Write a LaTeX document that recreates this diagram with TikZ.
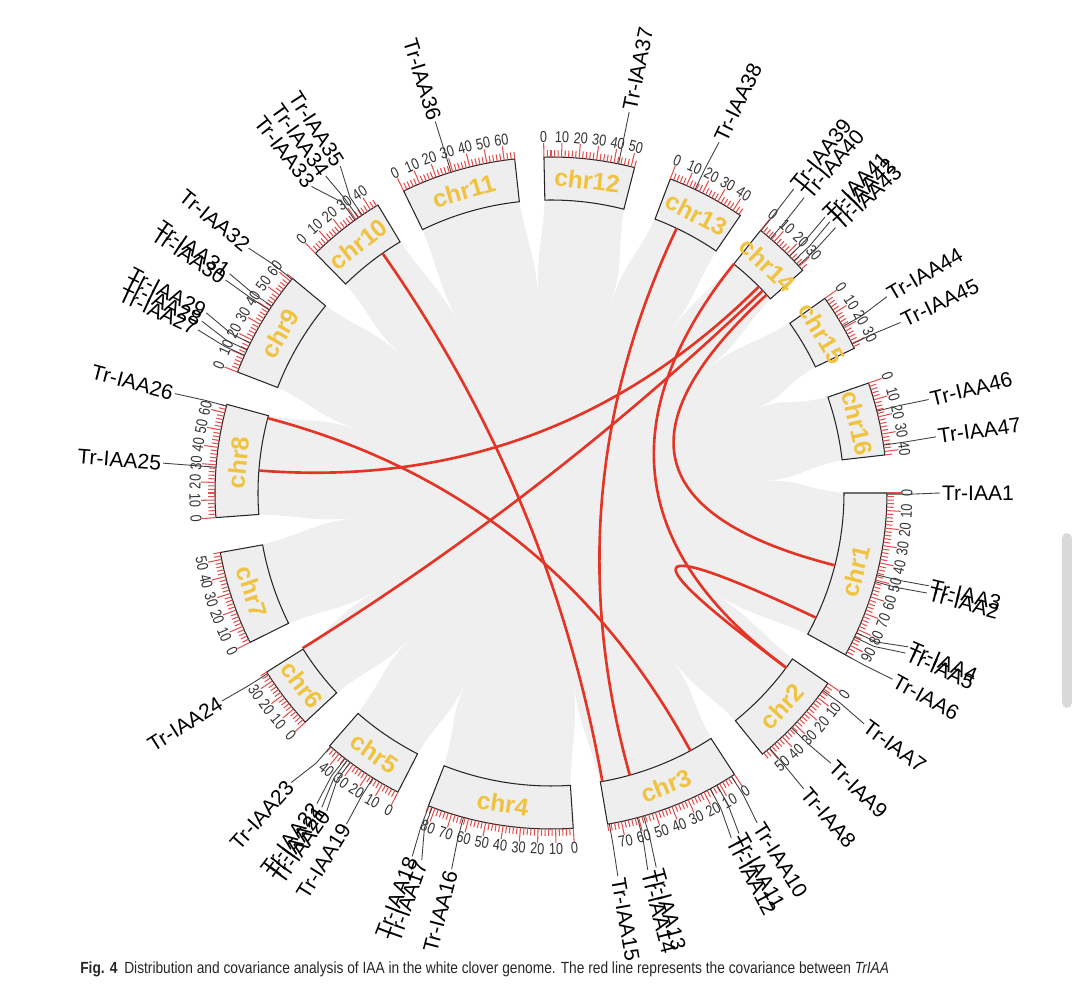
\documentclass[tikz,border=0pt]{standalone}
\usepackage{fontspec}
\setmainfont{Liberation Sans}
\usetikzlibrary{calc}

\definecolor{linkred}{RGB}{228,52,38}
\definecolor{tickred}{RGB}{228,78,78}
\definecolor{chrgold}{RGB}{241,194,62}
\definecolor{ribbongray}{RGB}{239,239,239}
\definecolor{boxgray}{RGB}{238,238,238}

\newcommand{\Rin}{293}
\newcommand{\Rout}{336}
\newcommand{\unitdeg}{0.3}

\begin{document}
\begin{tikzpicture}[
    x=0.02cm, y=0.02cm,
    chrbox/.style={draw=black!85, fill=boxgray, line width=0.6pt},
    chrlbl/.style={font=\fontsize{14}{14}\selectfont\bfseries, text=chrgold, inner sep=0pt},
    tck/.style={draw=tickred, line width=0.6pt},
    tcklbl/.style={font=\fontsize{9}{9}\selectfont, text=black!80, inner sep=0pt},
    lead/.style={draw=black!75, line width=0.5pt},
    genelbl/.style={font=\fontsize{12}{14}\selectfont, inner sep=1pt},
    link/.style={draw=linkred, line width=1.5pt},
    gapwedge/.style={fill=white, draw=none},
]
\useasboundingbox (-551,-504) rectangle (529,493);
% === Ribbon background ===
\fill[ribbongray] (0,0) circle[radius=\Rin];
\foreach \gA/\gB/\tip in {28.8/34.5/189, 51.0/56.9/201, 80.3/86.2/188, 111.4/117.1/204,
    131.2/137.0/199, 147.8/153.6/198, 169.8/175.8/195, 195.3/201.1/201, 219.7/225.5/200,
    239.0/244.0/190, 263.8/268.8/194, 284.4/290.8/198, 304.3/308.6/200, 318.5/324.6/198,
    334.5/340.9/215, 353.5/360.0/209} {
    \pgfmathsetmacro\angE{-\gA}
    \pgfmathsetmacro\angS{-\gB}
    \pgfmathsetmacro\angM{-(\gA+\gB)/2}
    \pgfmathsetmacro\angEc{\angE+0.35*(\angM-\angE)}
    \pgfmathsetmacro\angSc{\angS+0.35*(\angM-\angS)}
    \pgfmathsetmacro\tipc{\tip+45}
    \fill[gapwedge] (\angE:295) .. controls (\angEc:245) and (\angM:\tipc) .. (\angM:\tip)
        .. controls (\angM:\tipc) and (\angSc:245) .. (\angS:295)
        arc[start angle=\angS, end angle=\angE, radius=295] -- cycle;
}
% === Chromosomes: box, ticks, scale, name ===
\foreach \ci/\cs/\clen in {1/0.0/96, 2/34.5/55, 3/56.9/78, 4/86.2/84, 5/117.1/47, 6/137.0/36,
    7/153.6/54, 8/175.8/65, 9/201.1/62, 10/225.5/45, 11/244.0/66, 12/268.8/52,
    13/290.8/45, 14/308.6/33, 15/324.6/33, 16/340.9/42} {
    \pgfmathsetmacro\angS{-\cs}
    \pgfmathsetmacro\angE{-(\cs+\unitdeg*\clen)}
    \pgfmathsetmacro\angM{(\angS+\angE)/2}
    \draw[chrbox] (\angS:\Rin) arc[start angle=\angS, end angle=\angE, radius=\Rin]
        -- (\angE:\Rout) arc[start angle=\angE, end angle=\angS, radius=\Rout] -- cycle;
    \foreach \t in {0,2,...,\clen} {
        \pgfmathsetmacro\ta{\angS-\unitdeg*\t}
        \pgfmathsetmacro\tl{mod(\t,10)==0 ? 350 : 343}
        \draw[tck] (\ta:\Rout) -- (\ta:\tl);
    }
    \foreach \t in {0,10,...,\clen} {
        \pgfmathsetmacro\ta{\angS-\unitdeg*\t}
        \pgfmathsetmacro\rot{sin(\ta)>0 ? \ta-90 : \ta+90}
        \node[tcklbl, rotate=\rot, xscale=0.8] at (\ta:356) {\t};
    }
    \pgfmathsetmacro\rot{sin(\angM)>0 ? \angM-90 : \angM+90}
    \node[chrlbl, rotate=\rot] (chr\ci) at (\angM:314.5) {chr\ci};
}
% === Covariance links ===
\foreach \la/\lb in {234.9/79.9, 295.4/74.4, 194.8/61.6, 184.4/315.2, 148.0/316.3,
    317.4/14.3, 308.6/36.6, 25.2/36.6} {
    \coordinate (la) at (-\la:\Rin);
    \coordinate (lb) at (-\lb:\Rin);
    \draw[link] (la) .. controls (-\la:97.7) and (-\lb:97.7) .. (lb);
}
% === Gene labels ===
\foreach \gi/\gpos/\glab in {1/0.2/0.0, 2/15.3/14.9, 3/14.1/13.8, 4/24.6/23.3, 5/25.4/24.3,
    6/28.8/28.6, 7/36.0/36.4, 8/49.4/49.5, 9/44.3/44.0, 10/57.5/58.0, 11/60.4/61.1,
    12/61.7/62.4, 13/74.0/74.3, 14/75.1/75.6, 15/80.0/80.1, 16/105.1/104.8,
    17/110.7/109.4, 18/111.3/110.9, 19/122.0/121.7, 20/126.7/125.2, 21/127.3/126.1,
    22/127.8/127.0, 23/131.0/131.9, 24/147.5/147.7, 25/184.4/184.4, 26/195.0/194.8,
    27/204.2/204.8, 28/205.2/206.2, 29/206.5/207.6, 30/213.0/213.2, 31/213.8/214.3,
    32/219.5/219.0, 33/234.3/232.0, 34/235.0/234.6, 35/235.8/237.2, 36/252.7/252.7,
    37/281.6/281.6, 38/295.4/295.6, 39/308.7/308.6, 40/310.8/310.6, 41/315.2/314.8,
    42/316.3/315.8, 43/317.4/317.0, 44/330.3/329.7, 45/333.7/334.0, 46/345.9/346.1,
    47/351.8/351.7} {
    \pgfmathsetmacro\ga{-\gpos}
    \pgfmathsetmacro\qa{-\glab}
    \pgfmathsetmacro\cq{cos(\qa)}
    \ifdim\cq pt>0pt \def\anc{west}\pgfmathsetmacro\rot{\qa}\else
        \def\anc{east}\pgfmathsetmacro\rot{\qa+180}\fi
    \coordinate (p\gi) at (\ga:\Rout);
    \node[genelbl, anchor=\anc, rotate=\rot] (g\gi) at (\qa:389) {Tr-IAA\gi};
    \draw[lead] (p\gi) -- (\ga:358) -- (g\gi.\anc);
}
% === Caption and page scrollbar ===
\node[anchor=base west, font=\fontsize{9.2}{11}\selectfont, text=black!85, xscale=0.85,
    inner sep=0pt] (caption) at (-471,-481)
    {\textbf{Fig. 4}\hspace{0.5em}Distribution and covariance analysis of IAA in the white clover genome. The red line represents the covariance between \textit{TrIAA}};
\fill[black!15, rounded corners=3pt] (511,-40) rectangle (521,-215);
\end{tikzpicture}
\end{document}
